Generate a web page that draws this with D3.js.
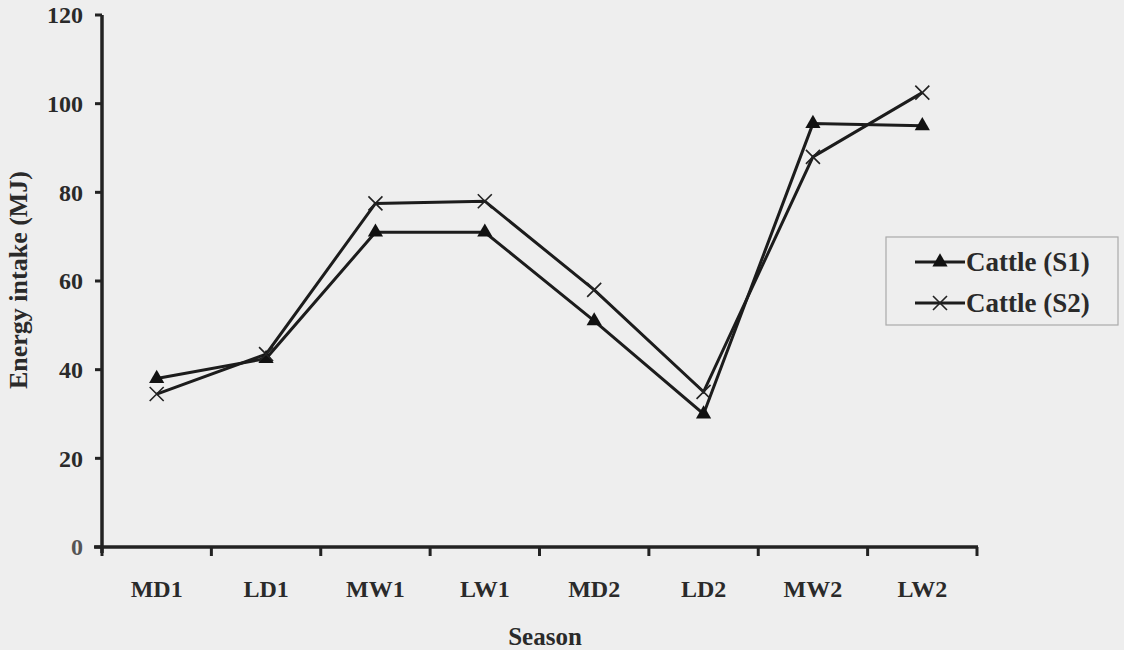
<!DOCTYPE html>
<html>
<head>
<meta charset="utf-8">
<script src="https://cdn.jsdelivr.net/npm/d3@7"></script>
<style>
  body { margin: 0; background: #eeeeee; }
  text { font-family: "Liberation Serif", "Times New Roman", serif; font-weight: bold; fill: #2a2a2a; }
</style>
</head>
<body>
<script>
// chart data
var seasons = ["MD1", "LD1", "MW1", "LW1", "MD2", "LD2", "MW2", "LW2"];
var cattleS1 = [38, 42.5, 71, 71, 51, 30, 95.5, 95];
var cattleS2 = [34.5, 43.5, 77.5, 78, 58, 35, 88, 102.5];
var yTicks = [0, 20, 40, 60, 80, 100, 120];
var seriesNames = ["Cattle (S1)", "Cattle (S2)"];

var width = 1124, height = 650;
var margin = {left: 102, right: 147, top: 15, bottom: 103};

var svg = d3.select("body").append("svg")
    .attr("width", width)
    .attr("height", height);

svg.append("rect").attr("width", width).attr("height", height).attr("fill", "#eeeeee");

var xScale = d3.scaleBand()
    .domain(seasons)
    .range([margin.left, width - margin.right]);

var yScale = d3.scaleLinear()
    .domain([0, 120])
    .range([height - margin.bottom, margin.top]);

var ink = "#222";

// y axis
var yAxis = svg.append("g").attr("transform", "translate(" + margin.left + ",0)");
yAxis.append("line")
    .attr("x1", 0).attr("x2", 0)
    .attr("y1", yScale(120)).attr("y2", yScale(0) + 6)
    .attr("stroke", ink).attr("stroke-width", 3.5);
yAxis.selectAll(".ytick").data(yTicks).enter().append("line")
    .attr("x1", -7).attr("x2", 0)
    .attr("y1", function (d) { return yScale(d); })
    .attr("y2", function (d) { return yScale(d); })
    .attr("stroke", ink).attr("stroke-width", 3);
yAxis.selectAll(".ylab").data(yTicks).enter().append("text")
    .attr("x", -19)
    .attr("y", function (d) { return yScale(d); })
    .attr("dy", "0.35em")
    .attr("text-anchor", "end")
    .style("font-size", "24px")
    .style("fill", function (d) { return d === 0 ? "#555" : "#2a2a2a"; })
    .text(function (d) { return d; });

// x axis
var bottom = yScale(0);
var xAxis = svg.append("g");
xAxis.append("line")
    .attr("x1", margin.left - 8).attr("x2", width - margin.right + 1)
    .attr("y1", bottom).attr("y2", bottom)
    .attr("stroke", ink).attr("stroke-width", 3.5);
var tickXs = seasons.map(function (s) { return xScale(s); }).concat([xScale.range()[1]]);
xAxis.selectAll(".xtick").data(tickXs).enter().append("line")
    .attr("x1", function (d) { return d; })
    .attr("x2", function (d) { return d; })
    .attr("y1", bottom).attr("y2", bottom + 9)
    .attr("stroke", ink).attr("stroke-width", 3);
xAxis.selectAll(".xlab").data(seasons).enter().append("text")
    .attr("x", function (d) { return xScale(d) + xScale.bandwidth() / 2; })
    .attr("y", 597)
    .attr("text-anchor", "middle")
    .style("font-size", "24px")
    .text(function (d) { return d; });

// axis titles
svg.append("text")
    .attr("x", 545)
    .attr("y", 645)
    .attr("text-anchor", "middle")
    .style("font-size", "25px")
    .text("Season");

svg.append("text")
    .attr("transform", "translate(27," + 280 + ") rotate(-90)")
    .attr("text-anchor", "middle")
    .style("font-size", "26px")
    .text("Energy intake (MJ)");

// lines
var line = d3.line()
    .x(function (d, i) { return xScale(seasons[i]) + xScale.bandwidth() / 2; })
    .y(function (d) { return yScale(d); });

var allSeries = [cattleS1, cattleS2];
svg.selectAll(".series").data(allSeries).enter().append("path")
    .attr("d", function (d) { return line(d); })
    .attr("fill", "none")
    .attr("stroke", "#1c1c1c")
    .attr("stroke-width", 3);

var triangle = d3.symbol().type(d3.symbolTriangle).size(100);
function cross(size) {
    var h = size / 2;
    return "M" + (-h) + "," + (-h) + "L" + h + "," + h + "M" + (-h) + "," + h + "L" + h + "," + (-h);
}

svg.selectAll(".s1pt").data(cattleS1).enter().append("path")
    .attr("transform", function (d, i) {
        return "translate(" + (xScale(seasons[i]) + xScale.bandwidth() / 2) + "," + yScale(d) + ")";
    })
    .attr("d", triangle())
    .attr("fill", "#111");

svg.selectAll(".s2pt").data(cattleS2).enter().append("path")
    .attr("transform", function (d, i) {
        return "translate(" + (xScale(seasons[i]) + xScale.bandwidth() / 2) + "," + yScale(d) + ")";
    })
    .attr("d", cross(14))
    .attr("stroke", "#222")
    .attr("stroke-width", 1.6)
    .attr("fill", "none");

// legend
var legend = svg.append("g").attr("transform", "translate(886,237)");
legend.append("rect")
    .attr("width", 232).attr("height", 88)
    .attr("fill", "#eeeeee")
    .attr("stroke", "#aaa").attr("stroke-width", 1.2);

var items = legend.selectAll(".item").data(seriesNames).enter().append("g")
    .attr("transform", function (d, i) { return "translate(0," + (25 + i * 41) + ")"; });
items.append("line")
    .attr("x1", 29).attr("x2", 79)
    .attr("stroke", "#1c1c1c").attr("stroke-width", 3);
items.append("path")
    .attr("transform", "translate(54,0)")
    .attr("d", function (d, i) { return i === 0 ? triangle() : cross(14); })
    .attr("fill", function (d, i) { return i === 0 ? "#111" : "none"; })
    .attr("stroke", function (d, i) { return i === 0 ? "none" : "#222"; })
    .attr("stroke-width", 1.6);
items.append("text")
    .attr("x", 80)
    .attr("dy", "0.35em")
    .style("font-size", "27px")
    .text(function (d) { return d; });
</script>
</body>
</html>
